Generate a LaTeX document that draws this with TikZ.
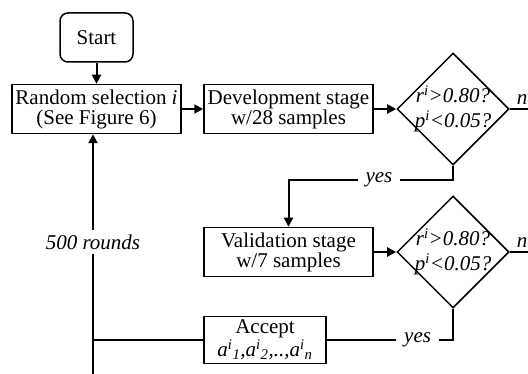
\documentclass[tikz,border=0pt]{standalone}
\usepackage{fontspec}
\setmainfont{Liberation Serif}
\usetikzlibrary{shapes.geometric, arrows.meta}

\begin{document}
\begin{tikzpicture}
    [
		x=1pt, y=-1pt,
		>={Triangle[length=9pt, width=9pt]},
		block/.style={
			draw, rectangle, align=center, line width=1.5pt, inner sep=2pt,
			minimum width=169pt, minimum height=49pt,
			font=\fontsize{21}{20}\selectfont
		},
		decision/.style={
			draw, diamond, line width=1.5pt, inner sep=0pt,
			minimum width=112pt, minimum height=112pt
		},
		cond/.style={align=center, font=\fontsize{21}{25}\selectfont\itshape},
		tag/.style={
			fill=white, inner xsep=8pt, inner ysep=5pt,
			font=\fontsize{21}{20}\selectfont\itshape
		},
		link/.style={line width=2pt}
	]

\useasboundingbox (0,0) rectangle (528,374);

% Nodes
\node (start) [block, rounded corners=8pt, minimum width=73pt] at (96.5,37.5) {Start};
\node (select) [block] at (96.5,109) {Random selection \textit{i}\\(See Figure 6)};
\node (dev) [block] at (288.5,109) {Development stage\\w/28 samples};
\node (test1) [decision,
	label={[cond]center:{r\textsuperscript{i}>0.80?\\p\textsuperscript{i}<0.05?}}]
	at (453,109) {};
\node (val) [block] at (288.5,252) {Validation stage\\w/7 samples};
\node (test2) [decision,
	label={[cond]center:{r\textsuperscript{i}>0.80?\\p\textsuperscript{i}<0.05?}}]
	at (453,252) {};
\node (accept) [block, minimum width=122pt, minimum height=47pt] at (265,340)
	{Accept\\\textit{a\textsuperscript{i}\textsubscript{1},a\textsuperscript{i}\textsubscript{2},..,a\textsuperscript{i}\textsubscript{n}}};

% Corners and loose ends
\coordinate (no1) at (545,109);
\coordinate (no2) at (545,252);
\coordinate (turn1) at (453,180);
\coordinate (turn2) at (453,340);
\coordinate (join) at (93,340);
\coordinate (tail) at (93,385);

% Transitions
\draw [->, link] (start) -- (select);
\draw [->, link] (select) -- (dev);
\draw [->, link] (dev) -- (test1);

\draw [->, link]
	(test1.east) to node [tag, above, fill=none, inner sep=3pt]
	{no} (no1);

\draw [->, link]
	(test1.south) -- (turn1) -- node [tag, pos=0.45]
	{yes} (turn1 -| val.north) -- (val.north);

\draw [->, link] (val) -- (test2);

\draw [->, link]
	(test2.east) to node [tag, above, fill=none, inner sep=3pt]
	{no} (no2);

\draw [link]
	(test2.south) -- (turn2) -- node [tag, pos=0.28]
	{yes} (accept.east);

\draw [link] (accept.west) -- (join);
\draw [link] (tail) -- (join);

\draw [->, link]
	(join) -- node [tag, pos=0.476]
	{500 rounds} (join |- select.south);

\end{tikzpicture}
\end{document}
